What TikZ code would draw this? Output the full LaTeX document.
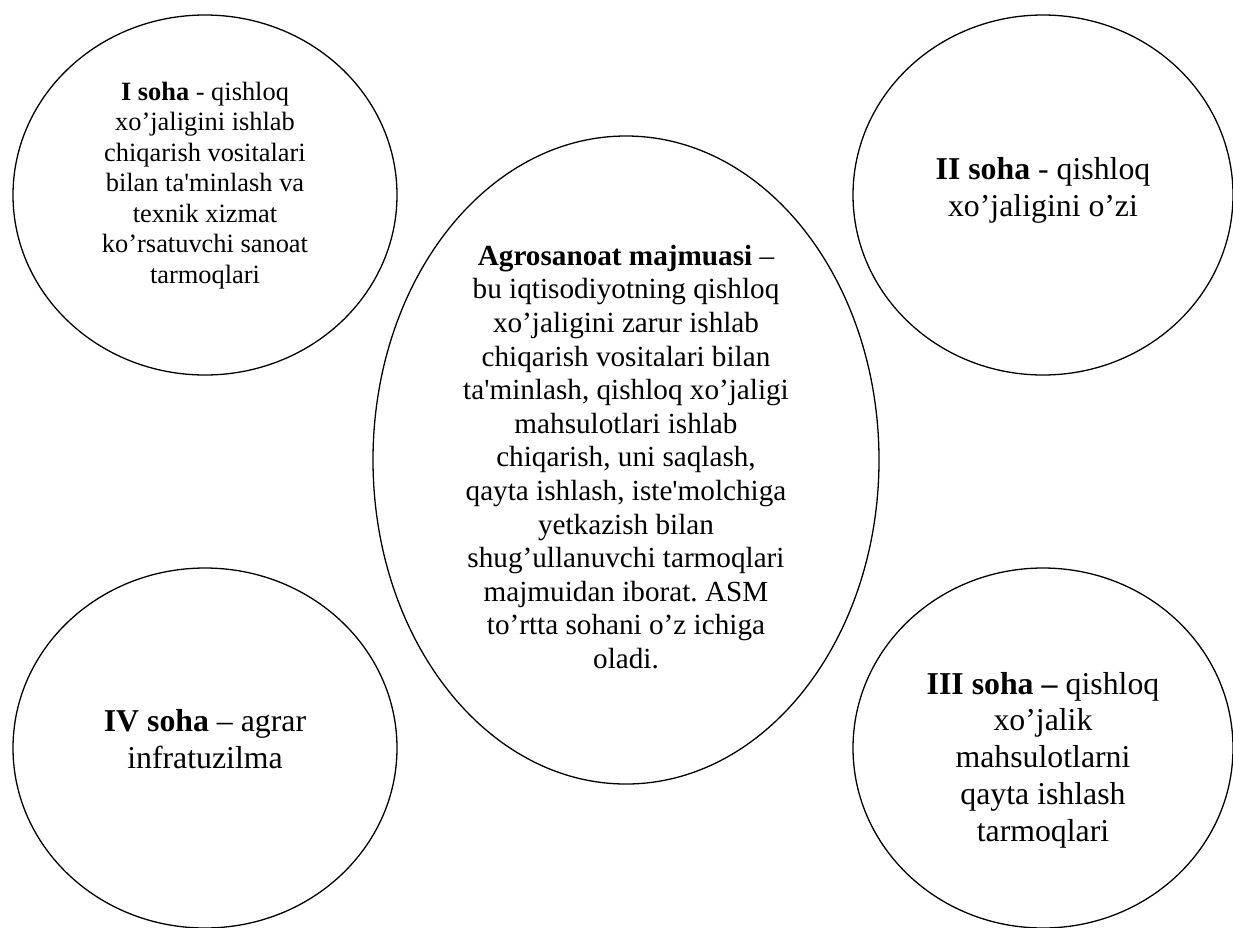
\documentclass[tikz,border=0pt]{standalone}
\usepackage{fontspec}
\setmainfont{Liberation Serif}[Ligatures=TeXOff]
\usetikzlibrary{shapes.geometric}
\frenchspacing
\tikzset{
  sphere/.style={draw, ellipse, line width=1.3pt, inner sep=0pt},
  txt/.style={align=center, inner sep=0pt, anchor=center},
  small/.style={font=\fontsize{26.4}{30.5}\selectfont},
  mid/.style={font=\fontsize{29.2}{33.6}\selectfont},
  big/.style={font=\fontsize{31.8}{36.8}\selectfont},
}
\begin{document}
\begin{tikzpicture}[x=1pt,y=-1pt]
\path[use as bounding box] (0,0) rectangle (1233,927);
% shapes
\node[sphere, minimum width=384pt, minimum height=360pt] (s1) at (205,195) {};
\node[sphere, minimum width=380pt, minimum height=360pt] (s2) at (1043,195) {};
\node[sphere, minimum width=506pt, minimum height=648pt] (asm) at (626,460) {};
\node[sphere, minimum width=384pt, minimum height=360pt] (s4) at (205,748) {};
\node[sphere, minimum width=380pt, minimum height=360pt] (s3) at (1043,748) {};
% texts
\node[txt, small] (t1) at (205,185.5) {\textbf{I soha} - qishloq\\xo’jaligini ishlab\\chiqarish vositalari\\bilan ta'minlash va\\texnik xizmat\\ko’rsatuvchi sanoat\\tarmoqlari};
\node[txt, big] (t2) at (1043,190.5) {\textbf{II soha} - qishloq\\xo’jaligini o’zi};
\node[txt, mid] (tasm) at (626,457) {\textbf{Agrosanoat majmuasi} –\\bu iqtisodiyotning qishloq\\xo’jaligini zarur ishlab\\chiqarish vositalari bilan\\ta'minlash, qishloq xo’jaligi\\mahsulotlari ishlab\\chiqarish, uni saqlash,\\qayta ishlash, iste'molchiga\\yetkazish bilan\\shug’ullanuvchi tarmoqlari\\majmuidan iborat. ASM\\to’rtta sohani o’z ichiga\\oladi.};
\node[txt, big] (t4) at (205,739) {\textbf{IV soha} – agrar\\infratuzilma};
\node[txt, big] (t3) at (1043,760) {\textbf{III soha –} qishloq\\xo’jalik\\mahsulotlarni\\qayta ishlash\\tarmoqlari};
\end{tikzpicture}
\end{document}
